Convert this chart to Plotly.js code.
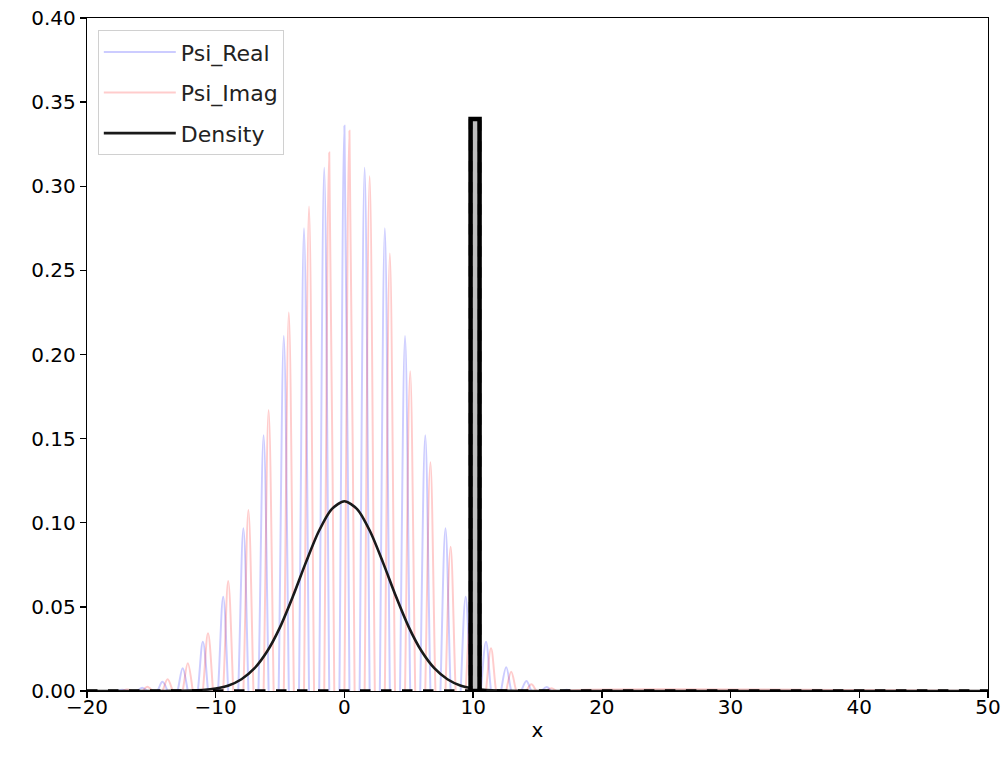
<!DOCTYPE html>
<html>
<head>
<meta charset="utf-8">
<script src="https://cdn.plot.ly/plotly-3.0.1.min.js"></script>
<style>html,body{margin:0;padding:0;background:#fff;}#chart{width:1003px;height:765px;}</style>
</head>
<body>
<div id="chart"></div>
<script>
// Wavefunction samples (x grid, quarter-period spacing)
const gridX = [-20,
  -17.67,-17.28,-16.89,-16.49,-16.10,-15.71,-15.32,-14.92,-14.53,-14.14,
  -13.74,-13.35,-12.96,-12.57,-12.17,-11.78,-11.39,-11.00,-10.60,-10.21,
  -9.82,-9.42,-9.03,-8.64,-8.25,-7.85,-7.46,-7.07,-6.68,-6.28,
  -5.89,-5.50,-5.11,-4.71,-4.32,-3.93,-3.53,-3.14,-2.75,-2.36,
  -1.96,-1.57,-1.18,-0.79,-0.39,0,0.39,0.79,1.18,1.57,
  1.96,2.36,2.75,3.14,3.53,3.93,4.32,4.71,5.11,5.50,
  5.89,6.28,6.68,7.07,7.46,7.85,8.25,8.64,9.03,9.42,
  9.82,10.21,10.60,11.00,11.39,11.78,12.17,12.57,12.96,13.35,
  13.74,14.14,14.53,14.92,15.32,15.71,16.10,16.49,16.89,17.28,
  17.67, 50];
const psiReal = [0,
  0,0.0007,0,-0.0012,0,0.002,0,-0.0035,0,0.0055,
  0,-0.0095,0,0.0135,0,-0.02,0,0.0293,0,-0.042,
  0,0.056,0,-0.075,0,0.0967,0,-0.12,0,0.152,
  0,-0.18,0,0.211,0,-0.245,0,0.275,0,-0.298,
  0,0.311,0,-0.328,0,0.336,0,-0.328,0,0.311,
  0,-0.298,0,0.275,0,-0.245,0,0.211,0,-0.18,
  0,0.152,0,-0.12,0,0.0967,0,-0.075,0,0.056,
  0,-0.04,0,0.0293,0,-0.02,0,0.0141,0,-0.009,
  0,0.006,0,-0.0035,0,0.0024,0,-0.0012,0,0.0008,
  0, 0];
const psiImag = [0,
  -0.0003,0,0.0009,0,-0.0015,0,0.0025,0,-0.0045,0,
  0.007,0,-0.011,0,0.0165,0,-0.024,0,0.0343,0,
  -0.048,0,0.0654,0,-0.086,0,0.1076,0,-0.136,0,
  0.167,0,-0.195,0,0.225,0,-0.26,0,0.288,0,
  -0.306,0,0.320,0,-0.333,0,0.333,0,-0.32,0,
  0.306,0,-0.288,0,0.26,0,-0.225,0,0.19,0,
  -0.167,0,0.136,0,-0.107,0,0.0858,0,-0.065,0,
  0.048,0,-0.034,0,0.0254,0,-0.017,0,0.0115,0,
  -0.007,0,0.004,0,-0.003,0,0.0016,0,-0.0008,0,
  0.0005, 0];

// Probability density
const densX = [-20,-16,-15,-14,-13,-12,-11,-10,-9,-8,-7,-6,-5,-4,-3,-2,-1,0,1,2,3,4,5,6,7,8,9,10,11,12,13,14,20,50];
const densY = [0,0,0,0.00002,0.0001,0.0002,0.0006,0.0015,0.0033,0.0070,0.0134,0.0236,0.0380,0.0563,0.0763,0.0948,0.1080,0.1128,0.1080,0.0948,0.0763,0.0563,0.0380,0.0236,0.0134,0.0070,0.0033,0.0015,0.0006,0.0002,0.0001,0,0,0];

// Potential barrier
const potX = [-20, 9.8, 9.8, 10.5, 10.5, 50];
const potY = [0, 0, 0.34, 0.34, 0, 0];
const barrierX = [9.8, 9.8, 10.5, 10.5, 9.8];
const barrierY = [0, 0.34, 0.34, 0, 0];

const FONT = 'DejaVu Sans, Liberation Sans, sans-serif';

const traces = [
  {x: gridX, y: psiReal, type: 'scatter', mode: 'lines', name: 'Psi_Real', legendgroup: 'a',
   line: {color: 'rgba(0,0,255,0.2)', width: 2, shape: 'spline', smoothing: 1}},
  {x: gridX, y: psiImag, type: 'scatter', mode: 'lines', name: 'Psi_Imag', legendgroup: 'b',
   line: {color: 'rgba(255,0,0,0.2)', width: 2, shape: 'spline', smoothing: 1}},
  {x: densX, y: densY, type: 'scatter', mode: 'lines', name: 'Density', legendgroup: 'c',
   line: {color: '#1a1a1a', width: 2.6, shape: 'spline', smoothing: 0.8}},
  {x: barrierX, y: barrierY, type: 'scatter', mode: 'lines', fill: 'toself', showlegend: false,
   fillcolor: 'rgb(191,191,191)', line: {color: '#000', width: 4.5}},
  {x: potX, y: potY, type: 'scatter', mode: 'lines', showlegend: false,
   line: {color: '#000', width: 3.5, dash: 'dash'}}
];

const layout = {
  width: 1003, height: 765,
  margin: {l: 87, r: 15, t: 18, b: 74},
  paper_bgcolor: '#fff', plot_bgcolor: '#fff',
  font: {family: FONT, size: 20, color: '#000'},
  showlegend: true,
  legend: {x: 0.012, y: 0.982, xanchor: 'left', yanchor: 'top',
    bgcolor: 'rgba(255,255,255,0.85)', bordercolor: '#d0d0d0', borderwidth: 1,
    font: {family: FONT, size: 22, color: '#222'}, tracegroupgap: 9, itemwidth: 72},
  xaxis: {range: [-20, 50], tickmode: 'array', tickvals: [-20,-10,0,10,20,30,40,50],
    showgrid: false, zeroline: false, showline: true, mirror: true, linecolor: '#000', linewidth: 1.3,
    ticks: 'outside', ticklen: 6, tickwidth: 1.3, tickcolor: '#000',
    ticklabelstandoff: -8,
    tickfont: {family: FONT, size: 20},
    title: {text: 'x', font: {family: FONT, size: 20}, standoff: 4}},
  yaxis: {range: [0, 0.4], tickmode: 'array', tickvals: [0,0.05,0.1,0.15,0.2,0.25,0.3,0.35,0.4], tickformat: '.2f',
    showgrid: false, zeroline: false, showline: true, mirror: true, linecolor: '#000', linewidth: 1.3,
    ticks: 'outside', ticklen: 6, tickwidth: 1.3, tickcolor: '#000',
    tickfont: {family: FONT, size: 20}}
};

Plotly.newPlot('chart', traces, layout, {displayModeBar: false, staticPlot: true});
</script>
</body>
</html>
